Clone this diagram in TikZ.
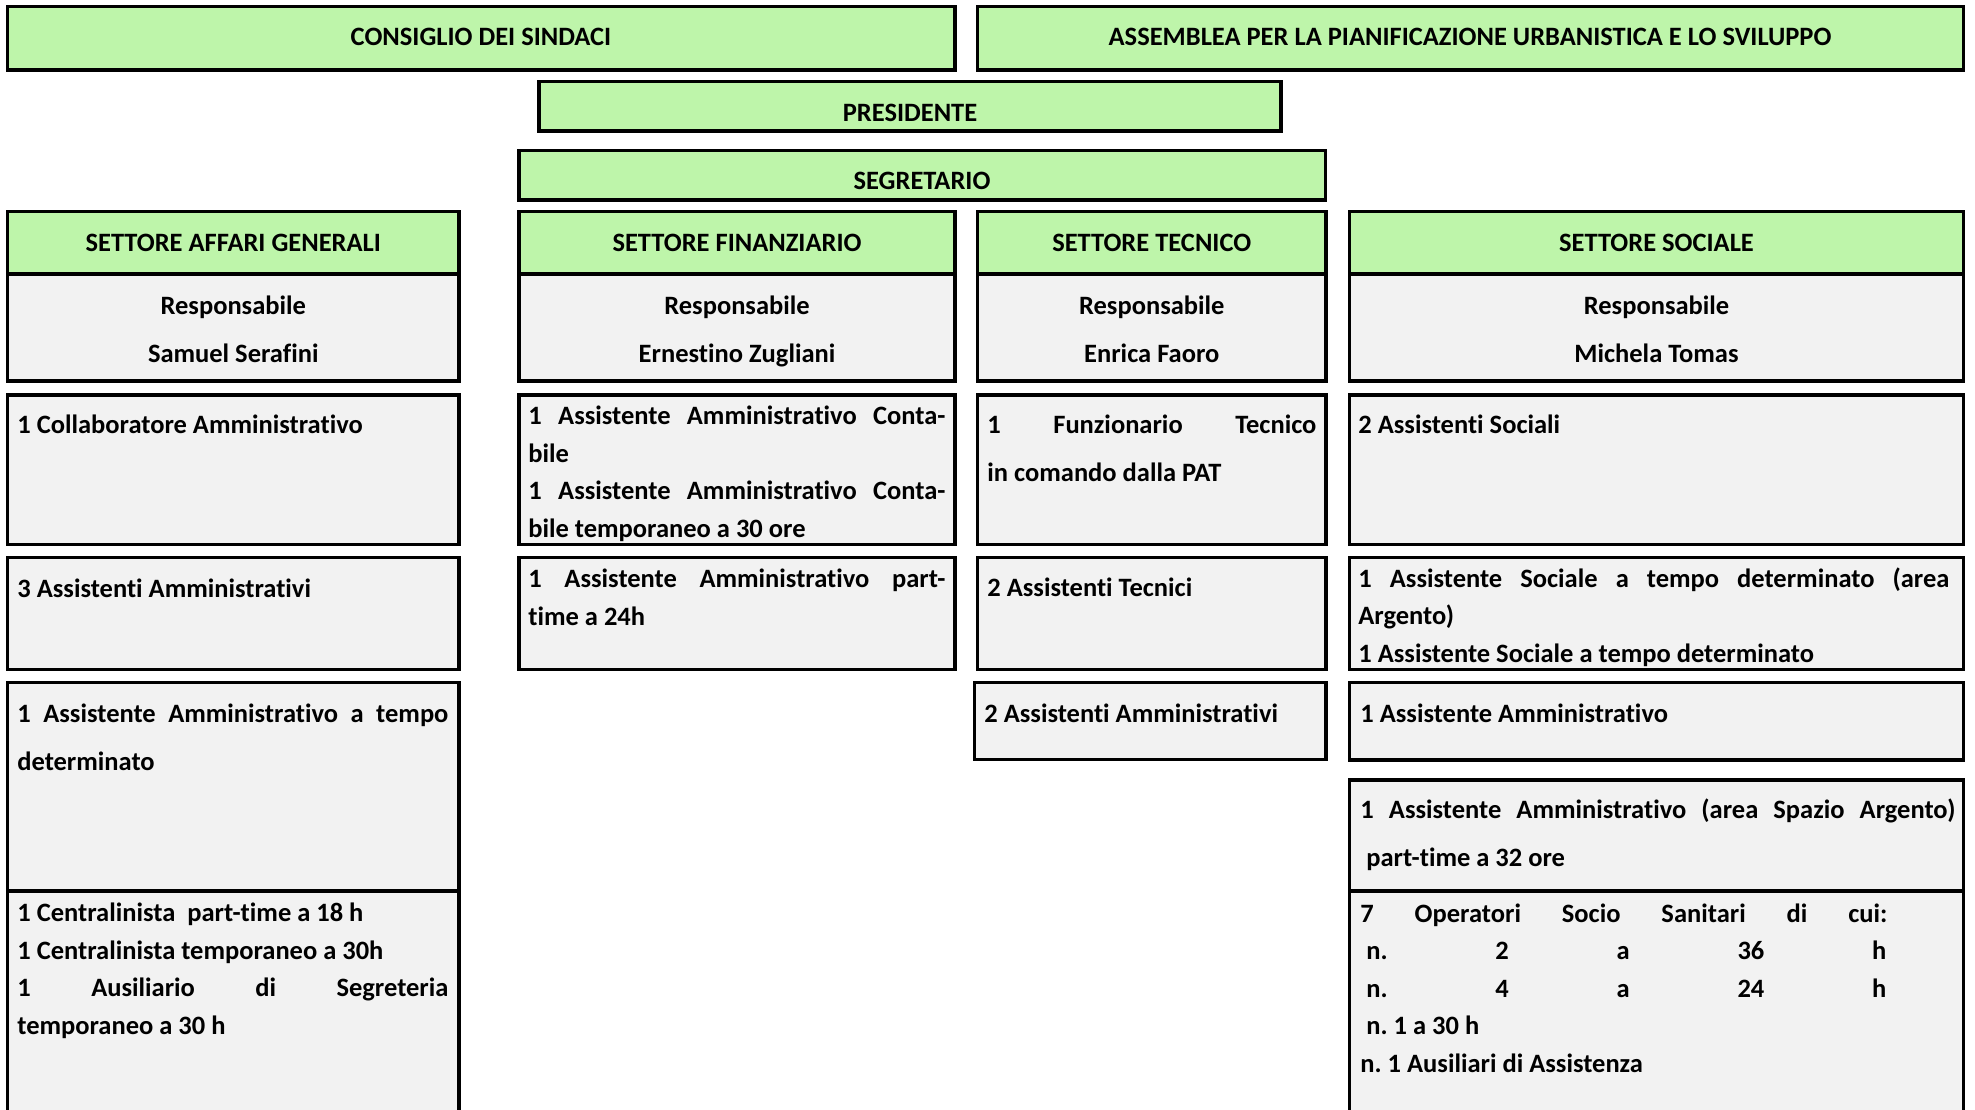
\documentclass[tikz,border=0pt]{standalone}
\usepackage{fontspec}
\setmainfont{Carlito}[Ligatures=NoCommon]
\usetikzlibrary{fit}
\definecolor{verde}{RGB}{190,245,170}
\definecolor{grigio}{RGB}{242,242,242}
\newdimen\pxu \pxu=0.5pt
\newcommand{\riga}[2]{\makebox[#1\pxu][s]{#2}}
\frenchspacing
\tikzset{
    verdebox/.style={draw, line width=1.75pt, fill=verde, inner sep=0pt},
    grigiobox/.style={draw, line width=1.75pt, fill=grigio, inner sep=0pt},
    titolo/.style={anchor=base, inner sep=0pt},
    voce/.style={anchor=base west, inner sep=0pt, align=left, font=\bfseries\fontsize{13.25}{18.7}\selectfont},
    voceampia/.style={voce, font=\bfseries\fontsize{13.25}{24}\selectfont},
    resp/.style={titolo, align=center, font=\bfseries\fontsize{13.25}{24}\selectfont}
}
\begin{document}
\begin{tikzpicture}[x=0.5pt, y=-0.5pt, font=\bfseries\fontsize{13.25}{16}\selectfont]
        \useasboundingbox (0,0) rectangle (1975,1109);
        \clip (0,0) rectangle (1975,1109);
        % organi
        \node[verdebox, fit={(7.5,6.5) (955,70)}] (consiglio) {};
        \node[verdebox, fit={(977.5,6.5) (1963.5,70)}] (assemblea) {};
        \node[verdebox, fit={(539,81.5) (1281,131)}] (presidente) {};
        \node[verdebox, fit={(519,150.5) (1325.5,200)}] (segretario) {};
        \node[titolo] (tconsiglio) at (481,45) {CONSIGLIO DEI SINDACI};
        \node[titolo] (tassemblea) at (1470,45) {ASSEMBLEA PER LA PIANIFICAZIONE URBANISTICA E LO SVILUPPO};
        \node[titolo] (tpresidente) at (910,121) {PRESIDENTE};
        \node[titolo] (tsegretario) at (922,189) {SEGRETARIO};
        % settori
        \node[verdebox, fit={(7.5,211.5) (459,274)}] (affari) {};
        \node[grigiobox, fit={(7.5,274) (459,381)}] (affarir) {};
        \node[verdebox, fit={(519,211.5) (955,274)}] (finanz) {};
        \node[grigiobox, fit={(519,274) (955,381)}] (finanzr) {};
        \node[verdebox, fit={(977.5,211.5) (1326,274)}] (tecnico) {};
        \node[grigiobox, fit={(977.5,274) (1326,381)}] (tecnicor) {};
        \node[verdebox, fit={(1349.5,211.5) (1963.5,274)}] (sociale) {};
        \node[grigiobox, fit={(1349.5,274) (1963.5,381)}] (socialer) {};
        \node[titolo] (taffari) at (233.25,251) {SETTORE AFFARI GENERALI};
        \node[titolo] (tfinanz) at (737,251) {SETTORE FINANZIARIO};
        \node[titolo] (ttecnico) at (1151.75,251) {SETTORE TECNICO};
        \node[titolo] (tsociale) at (1656.5,251) {SETTORE SOCIALE};
        % base = ultima riga
        \node[resp] (raffari) at (233.25,362) {Responsabile\\Samuel Serafini};
        \node[resp] (rfinanz) at (737,362) {Responsabile\\Ernestino Zugliani};
        \node[resp] (rtecnico) at (1151.75,362) {Responsabile\\Enrica Faoro};
        \node[resp] (rsociale) at (1656.5,362) {Responsabile\\Michela Tomas};
        % personale
        \node[grigiobox, fit={(7.5,395) (459,544.5)}] (ag1) {};
        \node[grigiobox, fit={(7.5,557.5) (459,669.5)}] (ag2) {};
        \node[grigiobox, fit={(7.5,682.5) (459,891)}] (ag3) {};
        \node[grigiobox, fit={(7.5,891) (459,1130)}] (ag4) {};
        \node[grigiobox, fit={(519,395) (955,544.5)}] (fi1) {};
        \node[grigiobox, fit={(519,557.5) (955,669.5)}] (fi2) {};
        \node[grigiobox, fit={(977.5,395) (1326,544.5)}] (te1) {};
        \node[grigiobox, fit={(977.5,557.5) (1326,669.5)}] (te2) {};
        \node[grigiobox, fit={(974.5,682.5) (1326,759.5)}] (te3) {};
        \node[grigiobox, fit={(1349.5,395) (1963.5,544.5)}] (so1) {};
        \node[grigiobox, fit={(1349.5,557.5) (1963.5,669.5)}] (so2) {};
        \node[grigiobox, fit={(1349.5,682.5) (1963.5,760)}] (so3) {};
        \node[grigiobox, fit={(1349.5,780) (1963.5,891)}] (so4) {};
        \node[grigiobox, fit={(1349.5,891) (1963.5,1130)}] (so5) {};
        \node[voce] (tag1) at (17,433) {1 Collaboratore Amministrativo};
        \node[voce] (tag2) at (17,597) {3 Assistenti Amministrativi};
        \node[voceampia] (tag3) at (17,770) {\riga{431}{1 Assistente Amministrativo a tempo}\\determinato};
        \node[voce] (tag4) at (17,1034) {1 Centralinista\ \ part-time a 18 h\\1 Centralinista temporaneo a 30h\\\riga{431}{1 Ausiliario di Segreteria}\\temporaneo a 30 h};
        \node[voce] (tfi1) at (528,537) {\riga{417}{1 Assistente Amministrativo Conta-}\\bile\\\riga{417}{1 Assistente Amministrativo Conta-}\\bile temporaneo a 30 ore};
        \node[voce] (tfi2) at (528,625) {\riga{417}{1 Assistente Amministrativo part-}\\time a 24h};
        \node[voceampia] (tte1) at (987,481) {\riga{329}{1 Funzionario Tecnico}\\in comando dalla PAT};
        \node[voce] (tte2) at (987,596) {2 Assistenti Tecnici};
        \node[voce] (tte3) at (984,722) {2 Assistenti Amministrativi};
        \node[voce] (tso1) at (1358,433) {2 Assistenti Sociali};
        \node[voce] (tso2) at (1358,662) {\riga{591}{1 Assistente Sociale a tempo determinato (area}\\Argento)\\1 Assistente Sociale a tempo determinato};
        \node[voce] (tso3) at (1360,722) {1 Assistente Amministrativo};
        \node[voceampia] (tso4) at (1360,866) {\riga{595}{1 Assistente Amministrativo (area Spazio Argento)}\\\hspace*{6\pxu}part-time a 32 ore};
        \node[voce] (tso5) at (1360,1072) {\riga{527}{7 Operatori Socio Sanitari di cui:}\\\hspace*{6\pxu}\riga{520}{n. 2 a 36 h}\\\hspace*{6\pxu}\riga{520}{n. 4 a 24 h}\\\hspace*{6\pxu}n. 1 a 30 h\\n. 1 Ausiliari di Assistenza};
    \end{tikzpicture}
\end{document}
